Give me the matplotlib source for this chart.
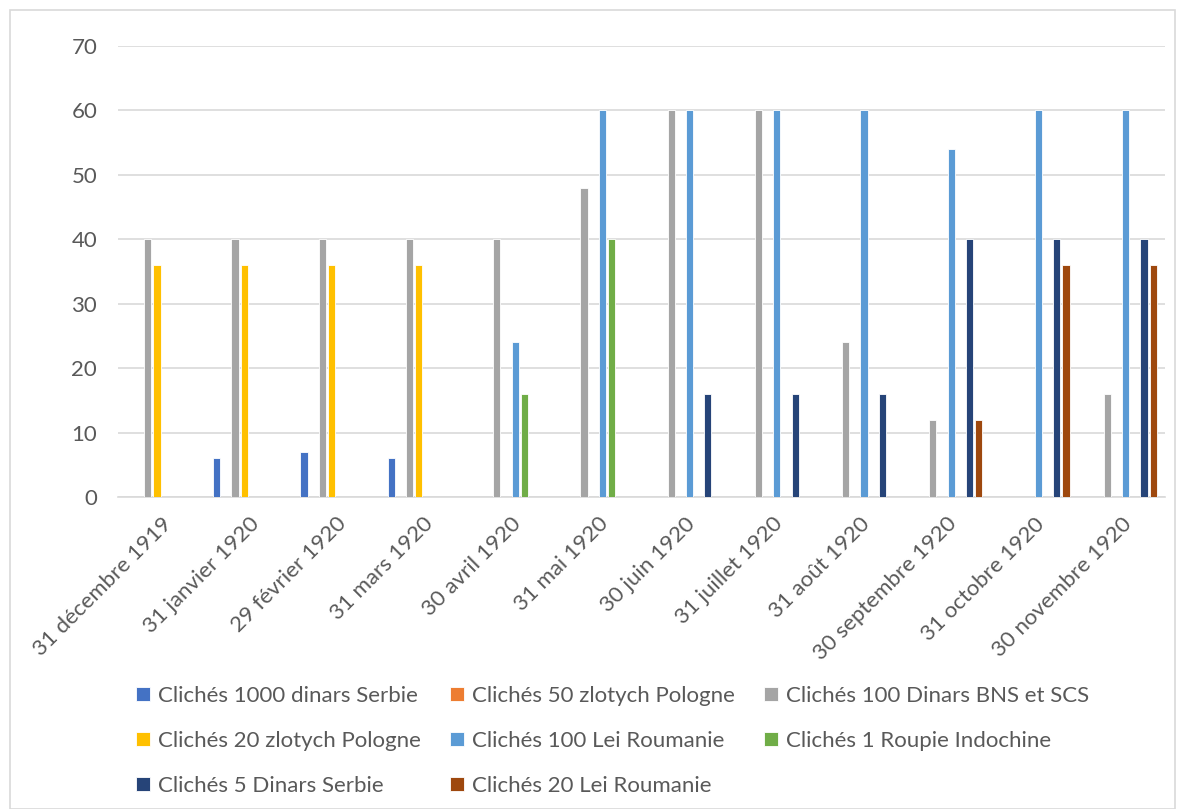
import numpy as np
import matplotlib
matplotlib.use("Agg")
import matplotlib.pyplot as plt

plt.rcParams['font.family'] = ['Lato', 'DejaVu Sans']

# 1. Data
dates = ["31 décembre 1919", "31 janvier 1920", "29 février 1920", "31 mars 1920",
         "30 avril 1920", "31 mai 1920", "30 juin 1920", "31 juillet 1920",
         "31 août 1920", "30 septembre 1920", "31 octobre 1920", "30 novembre 1920"]

series_names = ["Clichés 1000 dinars Serbie", "Clichés 50 zlotych Pologne",
                "Clichés 100 Dinars BNS et SCS", "Clichés 20 zlotych Pologne",
                "Clichés 100 Lei Roumanie", "Clichés 1 Roupie Indochine",
                "Clichés 5 Dinars Serbie", "Clichés 20 Lei Roumanie"]

dinars_1000 = [0, 6, 7, 6, 0, 0, 0, 0, 0, 0, 0, 0]
zlotych_50 = [0, 0, 0, 0, 0, 0, 0, 0, 0, 0, 0, 0]
dinars_100 = [40, 40, 40, 40, 40, 48, 60, 60, 24, 12, 0, 16]
zlotych_20 = [36, 36, 36, 36, 0, 0, 0, 0, 0, 0, 0, 0]
lei_100 = [0, 0, 0, 0, 24, 60, 60, 60, 60, 54, 60, 60]
roupie_1 = [0, 0, 0, 0, 16, 40, 0, 0, 0, 0, 0, 0]
dinars_5 = [0, 0, 0, 0, 0, 0, 16, 16, 16, 40, 40, 40]
lei_20 = [0, 0, 0, 0, 0, 0, 0, 0, 0, 12, 36, 36]

values = [dinars_1000, zlotych_50, dinars_100, zlotych_20,
          lei_100, roupie_1, dinars_5, lei_20]
colors = ["#4472C4", "#ED7D31", "#A5A5A5", "#FFC000",
          "#5B9BD5", "#70AD47", "#264478", "#9E480E"]

# 2. Plot
fig = plt.figure(figsize=(11.8, 8.09), dpi=100)
ax = fig.add_axes([0.1, 0.3857, 0.887, 0.5575])

x = np.arange(len(dates))
slot = 1 / 9.5
handles = []
for i, (vals, col) in enumerate(zip(values, colors)):
    b = ax.bar(x + (i - 3.5) * slot, vals, width=slot * 0.78, color=col,
               edgecolor="white", linewidth=0.6, zorder=3)
    handles.append(b)

ax.set_xlim(-0.5, len(dates) - 0.5)
ax.set_ylim(0, 70)
ax.set_yticks(range(0, 71, 10))
ax.grid(axis="y", color="#D9D9D9", linewidth=1.2, zorder=0)
for s in ["top", "right", "left"]:
    ax.spines[s].set_visible(False)
ax.spines["bottom"].set_color("#D9D9D9")
ax.spines["bottom"].set_linewidth(1.2)
ax.tick_params(axis="both", length=0, colors="#595959", labelsize=16)
ax.tick_params(axis="y", pad=15)
ax.tick_params(axis="x", pad=12)
ax.set_xticks(x)
ax.set_xticklabels(dates, rotation=45, ha="right", rotation_mode="anchor")

# legend: three columns, filled row by row like Excel
col_x = [0.0983, 0.3644, 0.6305]
for c in range(3):
    idx = list(range(c, len(series_names), 3))
    fig.legend([handles[k] for k in idx], [series_names[k] for k in idx],
               loc="upper left", bbox_to_anchor=(col_x[c], 0.1768), ncol=1,
               frameon=False, fontsize=16, labelcolor="#595959",
               handlelength=0.62, handleheight=0.62, handletextpad=0.35,
               labelspacing=1.115)

# outer border
fig.patches.append(plt.Rectangle((0.0085, 0.0), 0.987, 0.988, transform=fig.transFigure,
                                 fill=False, edgecolor="#D9D9D9", linewidth=1.2))

plt.savefig("out.png", dpi=100)
